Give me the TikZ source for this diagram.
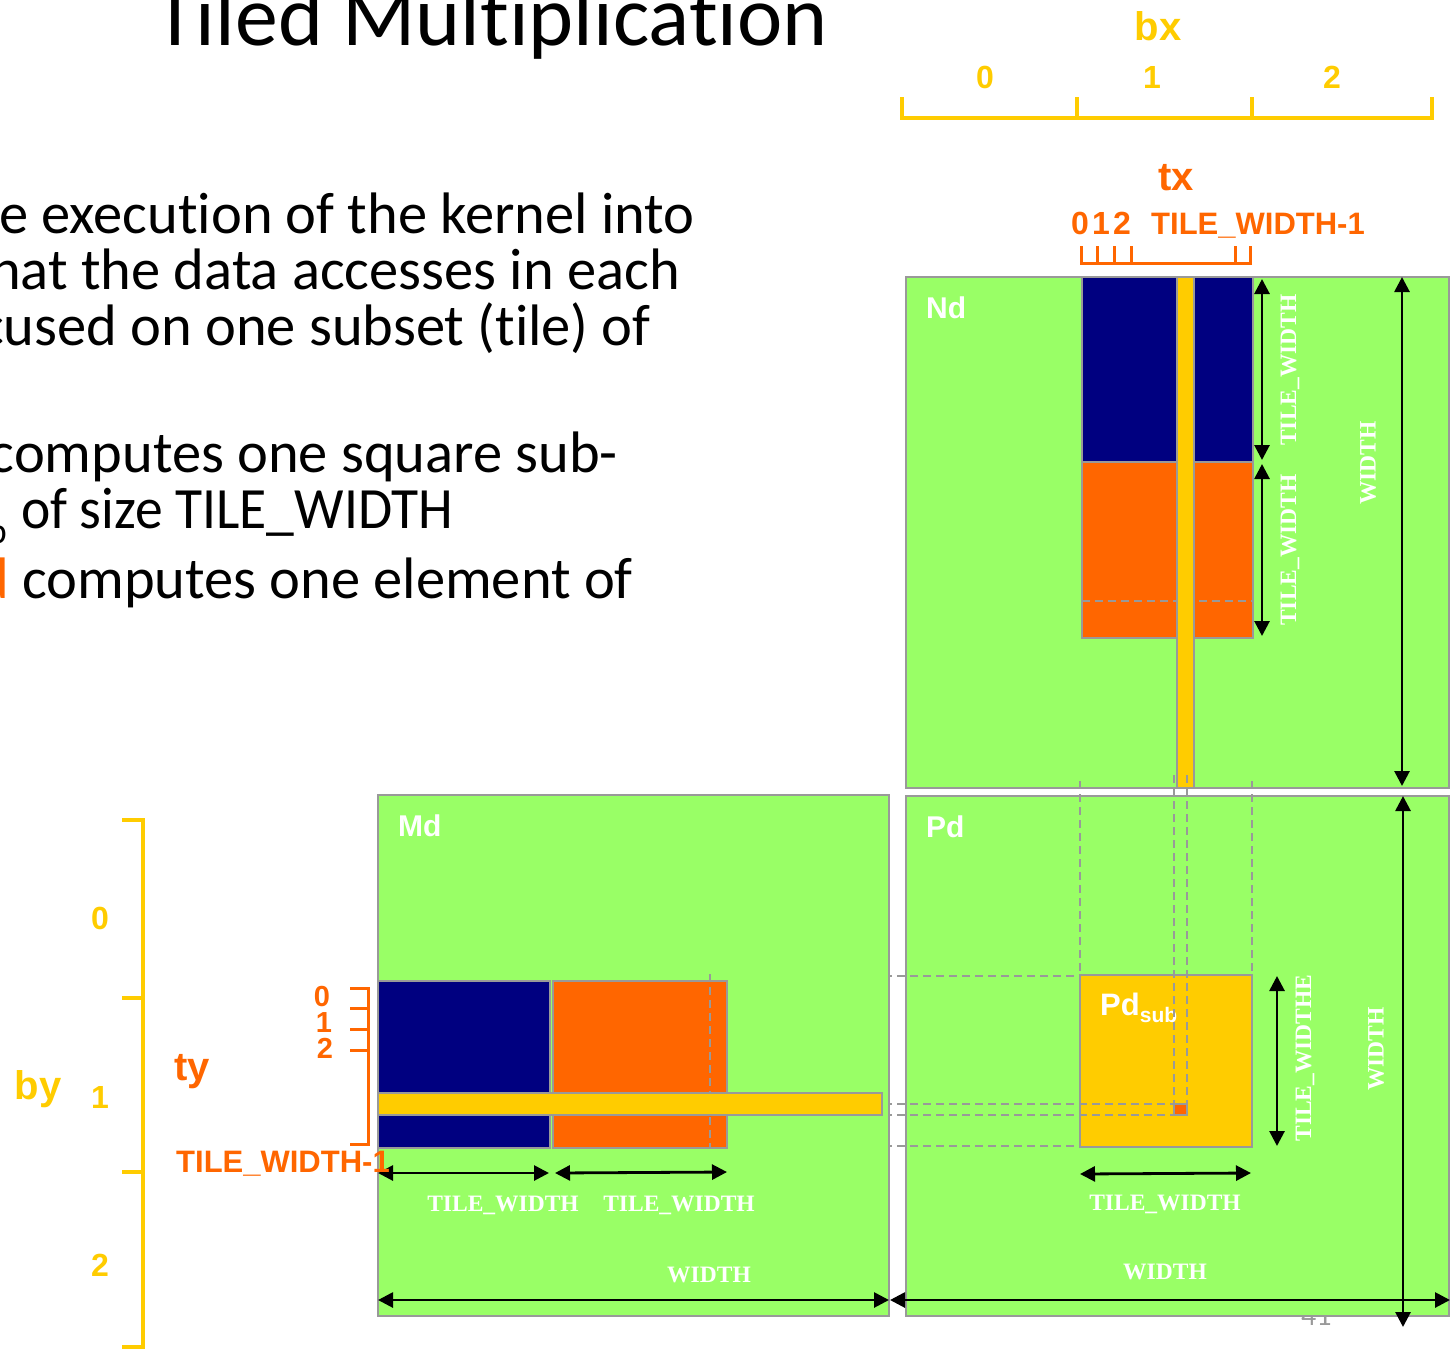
\documentclass[tikz,border=0pt]{standalone}
\usepackage{fontspec}
\setmainfont{Carlito}[Ligatures=NoCommon]
\newfontfamily\arialfam{Liberation Sans}
\newfontfamily\timesfam{Liberation Serif}
\usetikzlibrary{arrows.meta}

\definecolor{mgreen}{HTML}{99FF66}
\definecolor{mnavy}{HTML}{000080}
\definecolor{morange}{HTML}{FF6600}
\definecolor{mgold}{HTML}{FFCC00}
\definecolor{mgray}{HTML}{999999}

\tikzset{
  matbox/.style={fill=mgreen, draw=mgray, line width=2pt},
  tilebox/.style={draw=mgray, line width=2pt},
  guide/.style={draw=mgray, line width=1.6pt, dash pattern=on 8pt off 5pt},
  dimarrow/.style={line width=2.8pt, arrows={Triangle[length=15pt,width=15pt]-Triangle[length=15pt,width=15pt]}},
  dimtext/.style={text=white, inner sep=0, font=\timesfam\bfseries\fontsize{23.5}{24}\selectfont},
  matlbl/.style={text=white, inner sep=0, anchor=base west, font=\arialfam\bfseries\fontsize{30}{30}\selectfont},
  goldlbl/.style={text=mgold, inner sep=0, font=\arialfam\bfseries\fontsize{#1}{#1}\selectfont},
  orglbl/.style={text=morange, inner sep=0, font=\arialfam\bfseries\fontsize{#1}{#1}\selectfont},
  bodytxt/.style={inner sep=0, anchor=base east, font=\fontsize{58.5}{60}\selectfont},
  goldrule/.style={draw=mgold, line width=4pt},
  orgrule/.style={draw=morange, line width=3pt},
}

\begin{document}
\begin{tikzpicture}[x=1pt, y=-1pt]
\useasboundingbox (0,0) rectangle (1450,1349);
\clip (0,0) rectangle (1450,1349);

% ---------- title and bullet text ----------
\node[inner sep=0, anchor=base west, font=\fontsize{85.8}{86}\selectfont] (title) at (154,45) {Tiled Multiplication};
\node[bodytxt] (l1) at (695,233) {e execution of the kernel into};
\node[bodytxt] (l2) at (680,289) {hat the data accesses in each};
\node[bodytxt] (l3) at (651,345) {cused on one subset (tile) of};
\node[bodytxt] (l4) at (618,472) {computes one square sub-};
\node[bodytxt, anchor=base west, xscale=0.95] (l5) at (21,528) {of size TILE\_WIDTH};
\node[inner sep=0, anchor=base east, font=\fontsize{36}{36}\selectfont] (l5s) at (7,543) {b};
\node[bodytxt] (l6) at (633,598) {{\color{morange}d} computes one element of};

% ---------- block index rulers ----------
\draw[goldrule] (902,97) -- (902,118) -- (1432,118) -- (1432,97);
\draw[goldrule] (1077,97) -- (1077,118);
\draw[goldrule] (1252,97) -- (1252,118);
\node[goldlbl=40, anchor=base] (bx) at (1158,40) {bx};
\node[goldlbl=32, anchor=base] (bx0) at (985,88) {0};
\node[goldlbl=32, anchor=base] (bx1) at (1152,88) {1};
\node[goldlbl=32, anchor=base] (bx2) at (1332,88) {2};

\draw[goldrule] (122,820) -- (143,820) -- (143,1347) -- (122,1347);
\draw[goldrule] (122,998) -- (143,998);
\draw[goldrule] (122,1172) -- (143,1172);
\node[goldlbl=40, anchor=base] (by) at (38,1099) {by};
\node[goldlbl=32, anchor=base] (by0) at (100,929) {0};
\node[goldlbl=32, anchor=base] (by1) at (100,1108) {1};
\node[goldlbl=32, anchor=base] (by2) at (100,1276) {2};

% ---------- thread index rulers ----------
\node[orglbl=40, anchor=base] (tx) at (1176,190) {tx};
\node[orglbl=32, anchor=base] (tx0) at (1080,234) {0};
\node[orglbl=32, anchor=base] (tx1) at (1101,234) {1};
\node[orglbl=32, anchor=base] (tx2) at (1122,234) {2};
\node[orglbl=31, anchor=base west] (txlast) at (1151,234) {TILE\_WIDTH-1};
\draw[orgrule] (1081,246) -- (1081,263) -- (1250,263) -- (1250,246);
\foreach \xx in {1097,1114,1131,1235} \draw[orgrule] (\xx,246) -- (\xx,263);

% ---------- Nd ----------
\draw[matbox] (906,277) rectangle (1449,788);
\node[matlbl] (nd) at (926,318) {Nd};
\draw[tilebox, fill=mnavy] (1082,277) rectangle (1253,462);
\draw[tilebox, fill=morange] (1082,462) rectangle (1253,638);
\draw[guide] (1082,601) -- (1253,601);
\draw[tilebox, fill=mgold] (1177,277) rectangle (1194,788);
\coordinate (ndA1) at (1262,279); \coordinate (ndA2) at (1262,460);
\coordinate (ndB1) at (1262,464); \coordinate (ndB2) at (1262,636);
\coordinate (ndW1) at (1402,277); \coordinate (ndW2) at (1402,786);
\draw[dimarrow] (ndA1) -- (ndA2);
\draw[dimarrow] (ndB1) -- (ndB2);
\draw[dimarrow] (ndW1) -- (ndW2);
\node[dimtext, rotate=90] (ndtw1) at (1290,370) {TILE\_WIDTH};
\node[dimtext, rotate=90] (ndtw2) at (1290,550) {TILE\_WIDTH};
\node[dimtext, rotate=90] (ndw) at (1368,463) {WIDTH};

% ---------- page number (partly under Pd) ----------
\node[inner sep=0, anchor=base west, text=mgray, font=\fontsize{30}{30}\selectfont] (pgno) at (1301,1325) {41};

% ---------- Pd ----------
\draw[matbox] (906,796) rectangle (1449,1316);
\node[matlbl] (pd) at (926,837) {Pd};
\draw[tilebox, fill=mgold] (1080,975) rectangle (1252,1147);
\node[inner sep=0, anchor=base west, text=white, font=\arialfam\bfseries\fontsize{31}{31}\selectfont] (pdsub) at (1100,1015) {Pd{\fontsize{21}{21}\selectfont\raisebox{-7pt}{sub}}};
\draw[guide] (1080,781) -- (1080,975);
\draw[guide] (1252,781) -- (1252,975);
\draw[guide] (1174,775) -- (1174,1104);
\draw[guide] (1187,775) -- (1187,1104);
\draw[guide] (884,976) -- (1080,976);
\draw[guide] (884,1146) -- (1080,1146);
\draw[guide] (884,1104) -- (1174,1104);
\draw[guide] (884,1115) -- (1174,1115);
\draw[tilebox, fill=morange] (1174,1104) rectangle (1187,1115);
\coordinate (pdH1) at (1080,1174); \coordinate (pdH2) at (1251,1173);
\coordinate (pdV1) at (1277,976); \coordinate (pdV2) at (1277,1146);
\coordinate (pdW1) at (1403,796); \coordinate (pdW2) at (1403,1327);
\coordinate (pdX1) at (890,1300); \coordinate (pdX2) at (1450,1300);
\draw[dimarrow] (pdH1) -- (pdH2);
\draw[dimarrow] (pdV1) -- (pdV2);
\draw[dimarrow] (pdW1) -- (pdW2);
\draw[dimarrow] (pdX1) -- (pdX2);
\node[dimtext] (pdtw) at (1165,1204) {TILE\_WIDTH};
\node[dimtext, rotate=90] (pdtwv) at (1305,1058) {TILE\_WIDTHE};
\node[dimtext, rotate=90] (pdwv) at (1376,1049) {WIDTH};
\node[dimtext] (pdw) at (1165,1272) {WIDTH};

% ---------- Md ----------
\draw[matbox] (378,795) rectangle (889,1316);
\node[matlbl] (md) at (398,836) {Md};
\draw[tilebox, fill=mnavy] (378,981) rectangle (550,1148);
\draw[tilebox, fill=morange] (553,981) rectangle (727,1148);
\draw[guide] (710,974) -- (710,1148);
\draw[tilebox, fill=mgold] (378,1093) rectangle (882,1115);
\coordinate (mdA1) at (378,1173); \coordinate (mdA2) at (549,1173);
\coordinate (mdB1) at (555,1173); \coordinate (mdB2) at (727,1172);
\coordinate (mdW1) at (378,1300); \coordinate (mdW2) at (889,1300);
\draw[dimarrow] (mdA1) -- (mdA2);
\draw[dimarrow] (mdB1) -- (mdB2);
\draw[dimarrow] (mdW1) -- (mdW2);
\node[dimtext] (mdtw1) at (503,1205) {TILE\_WIDTH};
\node[dimtext] (mdtw2) at (679,1205) {TILE\_WIDTH};
\node[dimtext] (mdw) at (709,1275) {WIDTH};

% ---------- ty ruler ----------
\draw[orgrule] (350,988) -- (368,988) -- (368,1144) -- (350,1144);
\foreach \yy in {1008,1029,1050} \draw[orgrule] (350,\yy) -- (368,\yy);
\node[orglbl=29, anchor=base] (ty0) at (322,1006) {0};
\node[orglbl=29, anchor=base] (ty1) at (324,1032) {1};
\node[orglbl=29, anchor=base] (ty2) at (325,1058) {2};
\node[orglbl=40, anchor=base] (ty) at (192,1080) {ty};
\node[orglbl=31, anchor=base west] (tylast) at (176,1172) {TILE\_WIDTH-1};

\end{tikzpicture}
\end{document}
